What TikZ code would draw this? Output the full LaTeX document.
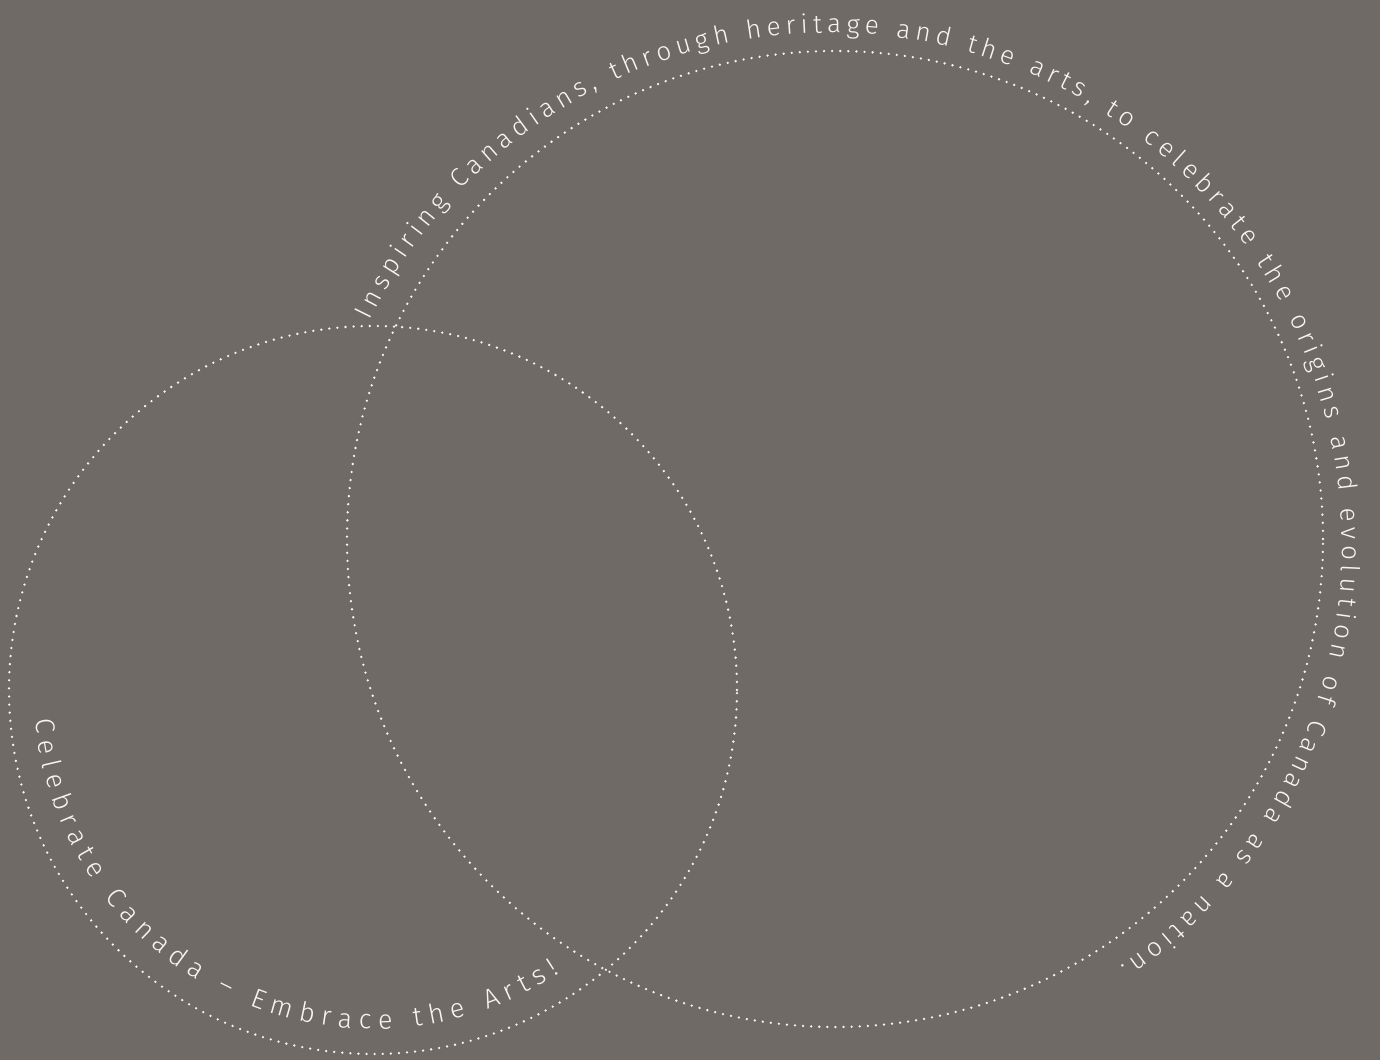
\documentclass[tikz,border=0pt]{standalone}
\usepackage{fontspec}
\setmainfont{Fira Sans}
\usetikzlibrary{decorations.text}
\definecolor{bggray}{HTML}{6F6A66}
\definecolor{ink}{HTML}{F7F5F2}
\newfontfamily\arcfont{Fira Sans}[UprightFont={* Light}]
\begin{document}
\begin{tikzpicture}[x=1pt,y=1pt,
  dotline/.style={draw=ink, line width=2.6pt, line cap=round, dash pattern=on 0pt off 8.1pt},
  arctext/.style={decorate, decoration={text along path, text align={fit to path}, text color=ink}}]
\useasboundingbox (0,0) rectangle (1380,1060);
\fill[bggray] (0,0) rectangle (1380,1060);
% circles
\coordinate (bigc) at (835,521);
\coordinate (smallc) at (373,370);
\draw[dotline] (bigc) circle[radius=488];
\draw[dotline] (smallc) circle[radius=364];
% texts
\coordinate (bigt) at (830,515);
\path[arctext, decoration={text={|\arcfont\fontsize{26}{30}\selectfont|Inspiring Canadians, through heritage and the arts, to celebrate the origins and evolution of Canada as a nation.}}]
  (bigt) ++(154:512) arc[start angle=154, end angle=-55.5, radius=512];
\path[arctext, decoration={text={|\arcfont\fontsize{27}{31}\selectfont|Celebrate Canada – Embrace the Arts!}}]
  (smallc) ++(185:339) arc[start angle=185, end angle=303.5, radius=339];
\end{tikzpicture}
\end{document}
